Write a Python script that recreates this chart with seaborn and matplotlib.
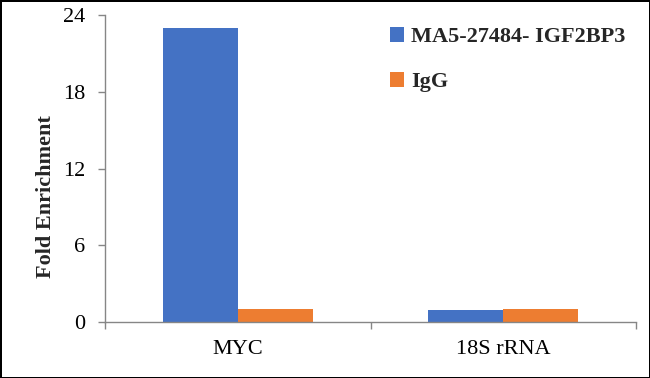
import matplotlib
matplotlib.use("Agg")
import matplotlib.pyplot as plt
import seaborn as sns
import pandas as pd
from matplotlib.patches import Patch

categories = ["MYC", "18S rRNA"]
series_names = ["MA5-27484- IGF2BP3", "IgG"]
antibody_values = [23.0, 0.9]
igg_values = [1.0, 1.0]
y_ticks = [0, 6, 12, 18, 24]
colors = ["#4472C4", "#ED7D31"]

df = pd.DataFrame({
    "Target": categories * 2,
    "Series": [series_names[0]] * 2 + [series_names[1]] * 2,
    "Value": antibody_values + igg_values,
})

sns.set_theme(style="white")
plt.rcParams["font.family"] = ["Liberation Serif", "DejaVu Serif"]

fig = plt.figure(figsize=(6.5, 3.78), dpi=100, edgecolor="black", linewidth=2)
ax = fig.add_axes([105/650, 1 - 322/378, (636-105)/650, (322-15)/378])

sns.barplot(data=df, x="Target", y="Value", hue="Series", order=categories,
            hue_order=series_names, palette=colors, width=0.566, gap=0,
            saturation=1, linewidth=0, ax=ax, legend=False)

ax.set_xlim(-0.5, 1.5)
ax.set_ylim(0, 24)
ax.set_yticks(y_ticks)
ax.set_yticklabels([str(t) for t in y_ticks])
ax.set_xlabel("")
ax.set_ylabel("Fold Enrichment", fontsize=16, fontweight="bold")
ax.yaxis.set_label_coords(-0.093, 0.407)

for s in ["top", "right"]:
    ax.spines[s].set_visible(False)
for s in ["left", "bottom"]:
    ax.spines[s].set_color("#868686")
    ax.spines[s].set_linewidth(1)

ax.tick_params(axis="y", which="major", left=True, length=5, width=1, color="#868686",
               labelsize=16, pad=9, labelcolor="black")
ax.tick_params(axis="x", which="major", bottom=False, length=0, labelsize=16, pad=13,
               labelcolor="black")
ax.set_xticks([-0.5, 0.5, 1.5], minor=True)
ax.tick_params(axis="x", which="minor", bottom=True, length=5, width=1, color="#868686")

handles = [Patch(facecolor=c, edgecolor="none") for c in colors]
fig.legend(handles, series_names, loc="upper left", bbox_to_anchor=(390/650, 1 - 27/378),
           frameon=False, prop={"size": 16, "weight": "bold"},
           handlelength=0.65, handleheight=0.65, handletextpad=0.3, labelspacing=1.1,
           borderaxespad=0, borderpad=0)

fig.savefig("out.png", dpi=100, edgecolor=fig.get_edgecolor())
